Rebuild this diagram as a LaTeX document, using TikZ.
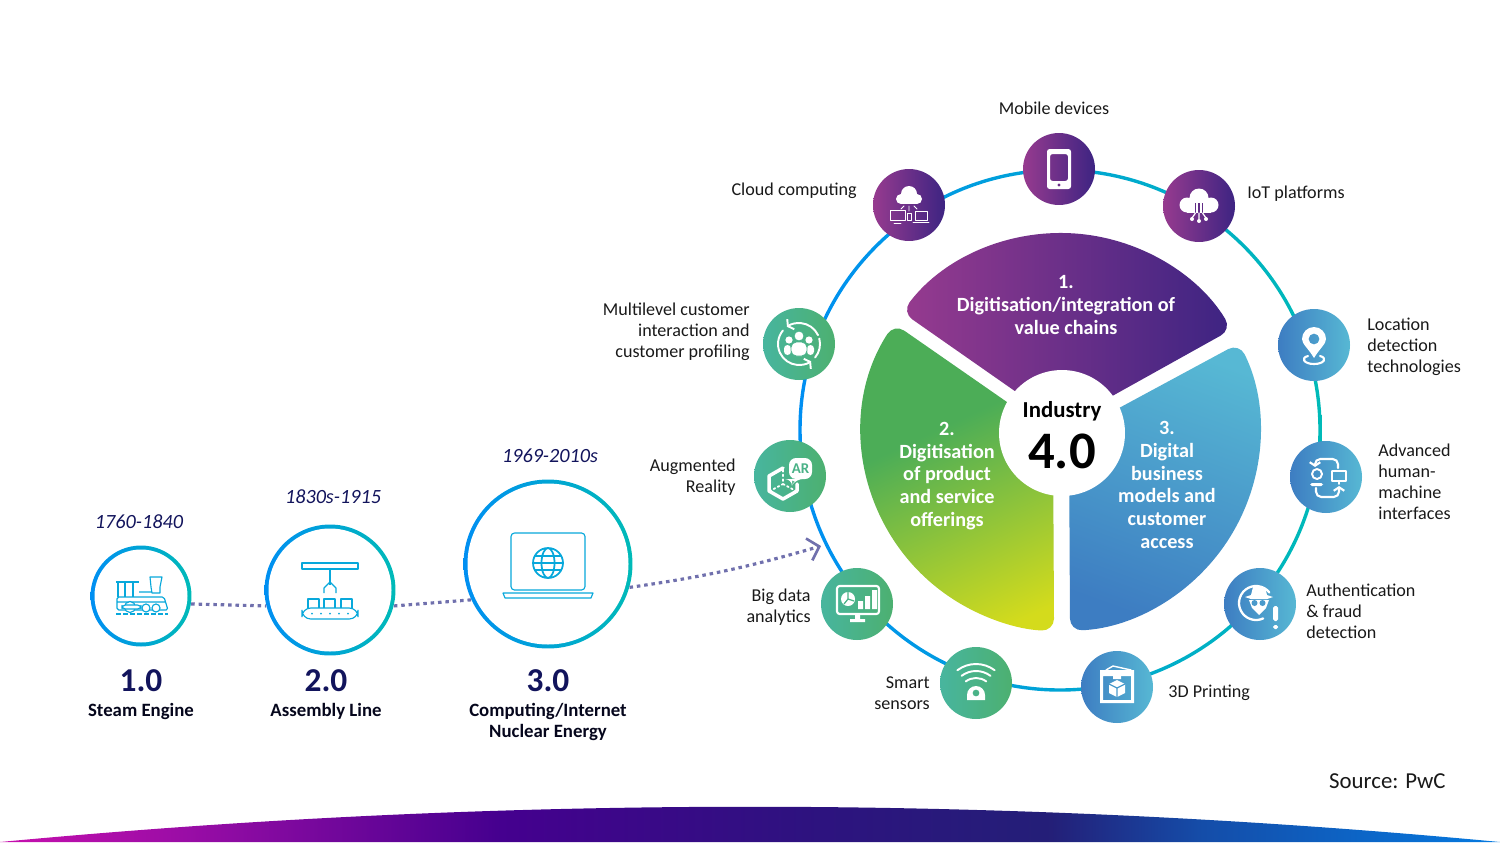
\documentclass[tikz,border=0pt]{standalone}
\usepackage{fontspec}
\setmainfont{Carlito}
\usepackage{xcolor}
\definecolor{ringblue}{rgb}{0.0,0.56,0.95}
\definecolor{ringteal}{rgb}{0.0,0.73,0.72}
\definecolor{deepnavy}{rgb}{0.07,0.08,0.36}
\definecolor{labelgray}{rgb}{0.1,0.1,0.1}
\definecolor{dotgray}{rgb}{0.44,0.44,0.68}
\definecolor{plumleft}{rgb}{0.59,0.23,0.56}
\definecolor{plumright}{rgb}{0.24,0.14,0.51}
\definecolor{skylight}{rgb}{0.34,0.72,0.83}
\definecolor{skydark}{rgb}{0.24,0.49,0.76}
\definecolor{jadeleft}{rgb}{0.28,0.71,0.62}
\definecolor{jaderight}{rgb}{0.30,0.69,0.44}
\definecolor{iconline}{rgb}{0.03,0.66,0.86}
\usepackage{tikz}
\usetikzlibrary{arrows.meta}
\pgfdeclarehorizontalshading{bandshade}{100bp}{rgb(0bp)=(0.78,0.06,0.68); rgb(25bp)=(0.78,0.06,0.68); rgb(31.3bp)=(0.60,0.05,0.65); rgb(41.7bp)=(0.27,0.0,0.56); rgb(51.7bp)=(0.18,0.07,0.50); rgb(60bp)=(0.14,0.12,0.47); rgb(65bp)=(0.08,0.30,0.66); rgb(75bp)=(0.02,0.48,0.88); rgb(100bp)=(0.02,0.48,0.88)}
\pgfdeclareverticalshading{leafshade}{100bp}{rgb(0bp)=(0.83,0.86,0.11); rgb(21bp)=(0.83,0.86,0.11); rgb(58bp)=(0.30,0.68,0.34); rgb(100bp)=(0.30,0.68,0.34)}

\begin{document}
\begin{tikzpicture}[x=0.02cm, y=-0.02cm,
  ringpath/.style={even odd rule, left color=ringblue, right color=ringteal},
  erac/.style={circle, left color=ringblue, right color=ringteal, inner sep=0pt},
  plumc/.style={circle, left color=plumleft, right color=plumright, minimum size=1.44cm, inner sep=0pt},
  skyc/.style={circle, left color=skydark, right color=skylight, minimum size=1.44cm, inner sep=0pt},
  jadec/.style={circle, left color=jadeleft, right color=jaderight, minimum size=1.44cm, inner sep=0pt},
  lab/.style={font=\fontsize{10.3}{11.95}\selectfont, text=labelgray, inner sep=0pt},
  yearl/.style={font=\fontsize{11.5}{13}\selectfont\itshape, text=deepnavy, inner sep=0pt},
  verl/.style={font=\fontsize{19}{20}\selectfont\bfseries, text=deepnavy, inner sep=0pt},
  namel/.style={font=\fontsize{10.7}{12}\selectfont\bfseries, text=deepnavy!30!black, align=center, inner sep=0pt},
  secl/.style={font=\fontsize{11.5}{12.9}\selectfont\bfseries, text=white, align=center, inner sep=0pt},
  dotted line/.style={dotgray, line width=1.8pt, dash pattern=on 2pt off 2.2pt},
  fl/.style={fill=white},
  ln/.style={draw=white, line width=0.8pt, line cap=round, line join=round},
  eraln/.style={draw=iconline, line width=0.65pt, line join=round}
]
\useasboundingbox (0,0) rectangle (1500,842);
\coordinate (hub) at (1061,432);
\coordinate (ringc) at (1060,430);
% bottom band
\shade[shading=bandshade] (0,842) .. controls (500,795) and (1000,795) .. (1500,842) -- cycle;
% ring
\path[ringpath] (ringc) circle (261.7) circle (258.3);
% three sectors
\shade[rounded corners=7, left color=plumleft, right color=plumright] (1062,424) -- ([shift={(-143:199)}]hub) arc[start angle=-143, end angle=-31, radius=199] -- cycle;
\shade[rounded corners=7, shading=leafshade, shading angle=25] (1053,434) -- ([shift={(-147:199)}]hub) arc[start angle=-147, end angle=-268, radius=199] -- cycle;
\shade[rounded corners=7, top color=skylight, bottom color=skydark, shading angle=-20] (1069,435) -- ([shift={(-26.5:199)}]hub) arc[start angle=-26.5, end angle=87.4, radius=199] -- cycle;
\node[circle, fill=white, minimum size=2.52cm, inner sep=0pt] (core) at (1062,433) {};
\node[font=\fontsize{13}{14}\selectfont\bfseries, text=black] (indus) at (1062,411) {Industry};
\node[font=\fontsize{30}{32}\selectfont\bfseries, text=black] (four) at (1062,451) {4.0};
\node[secl] (sec1) at (1066,305) {1.\\Digitisation/integration of\\value chains};
\node[secl] (sec2) at (947,476) {2.\\Digitisation\\of product\\and service\\offerings};
\node[secl] (sec3) at (1167,485) {3.\\Digital\\business\\models and\\customer\\access};
% ring nodes
\node[plumc] (mobile) at (1059,169) {};
\node[plumc] (cloud) at (909,205) {};
\node[plumc] (iot) at (1199,206) {};
\node[skyc] (locat) at (1314,345) {};
\node[skyc] (hmi) at (1326,477) {};
\node[skyc] (auth) at (1260,604) {};
\node[skyc] (print) at (1117,687) {};
\node[jadec] (sensor) at (976,683) {};
\node[jadec] (bigdata) at (857,604) {};
\node[jadec] (augm) at (790,476) {};
\node[jadec] (custom) at (799,344) {};
% ring labels
\node[lab, anchor=south] (lmobile) at (1054,115) {Mobile devices};
\node[lab, anchor=east] (lcloud) at (857,191) {Cloud computing};
\node[lab, anchor=west] (liot) at (1247,194) {IoT platforms};
\node[lab, anchor=west, align=left] (llocat) at (1367,347) {Location\\detection\\technologies};
\node[lab, anchor=west, align=left] (lhmi) at (1378,482) {Advanced\\human-\\machine\\interfaces};
\node[lab, anchor=west, align=left] (lauth) at (1306,611) {Authentication\\\& fraud\\detection};
\node[lab, anchor=west] (lprint) at (1168,693) {3D Printing};
\node[lab, anchor=east, align=right] (lsensor) at (930,693) {Smart\\sensors};
\node[lab, anchor=east, align=right] (lbigdata) at (811,607) {Big data\\analytics};
\node[lab, anchor=east, align=right] (laugm) at (736,477) {Augmented\\Reality};
\node[lab, anchor=east, align=right] (lcustom) at (750,332) {Multilevel customer\\interaction and\\customer profiling};
\node[font=\fontsize{13}{14}\selectfont, text=labelgray, anchor=east, inner sep=0pt] (source) at (1446,781) {Source: PwC};
% timeline
\node[erac, minimum size=2.02cm] (era1) at (141,596) {};
\node[erac, minimum size=2.62cm] (era2) at (330,590) {};
\node[erac, minimum size=3.38cm] (era3) at (548,564) {};
\fill[white] (era1) circle (46.5);
\fill[white] (era2) circle (61.5);
\fill[white] (era3) circle (80.5);
\coordinate (arrowend) at (821,546);
\draw[dotted line] (era1.-9) -- (era2.194);
\draw[dotted line] (era2.-14) -- (era3.205);
\draw[dotted line, -{Straight Barb[length=6pt, width=13pt, line width=1.5pt]}] (era3.-16) to[bend right=4] (arrowend);
\node[yearl] (y1) at (139,522) {1760-1840};
\node[yearl] (y2) at (333,497) {1830s-1915};
\node[yearl] (y3) at (550,456) {1969-2010s};
\node[verl] (v1) at (141,681) {1.0};
\node[verl] (v2) at (326,681) {2.0};
\node[verl] (v3) at (548,681) {3.0};
\node[namel, anchor=north] (n1) at (141,703) {Steam Engine};
\node[namel, anchor=north] (n2) at (326,703) {Assembly Line};
\node[namel, anchor=north] (n3) at (548,703) {Computing/Internet\\Nuclear Energy};
% era icons
\begin{scope}[shift={(era1)}]
\draw[eraln] (-25,-14) -- (-2,-14) (-23,-14) -- (-23,1) (-16,-14) -- (-16,1) (-8,-14) -- (-8,1);
\draw[eraln, rounded corners=1] (-24,1) -- (23,1) -- (27,14) -- (-24,14) -- cycle (-24,6) -- (24,6);
\draw[eraln] (9,-19) -- (21,-19) -- (19,-9) -- (19,-3) -- (11,-3) -- (10,-9) -- cycle (-2,-4) -- (11,-4);
\draw[eraln, fill=white] (-11,11) circle (5.5) (5,12) circle (4) (15,12) circle (4);
\draw[eraln, rounded corners=2, fill=white] (-19,9) rectangle (0,13);
\draw[eraln, dash pattern=on 3pt off 1pt] (-25,18) -- (27,18);
\end{scope}
\begin{scope}[shift={(era2)}]
\draw[eraln] (-28,-27) rectangle (28,-21) (0,-21) -- (0,-5);
\draw[eraln] (-6,3) -- (-6,-2) -- (0,-8) -- (6,-2) -- (6,3);
\draw[eraln] (-22,18) -- (-22,9) -- (-11,9) -- (-11,18) (-6,18) -- (-6,9) -- (5,9) -- (5,18) (11,18) -- (11,9) -- (22,9) -- (22,18);
\draw[eraln, rounded corners=5] (-28,18) rectangle (28,29);
\foreach \dotx in {-18,-9,0,9,18} \fill[iconline] (\dotx,23.5) circle (1);
\end{scope}
\begin{scope}[shift={(era3)}]
\draw[eraln, rounded corners=2] (-37,26) -- (-37,-31) -- (37,-31) -- (37,26) -- cycle;
\draw[eraln] (-45,29) -- (45,29) -- (43,34) -- (-43,34) -- cycle;
\draw[eraln, line width=1pt] (0,-1) circle (15) (0,-1) ellipse (6.5 and 15) (-15,-1) -- (15,-1) (-13,-8) -- (13,-8) (-13,6) -- (13,6);
\end{scope}
% ring icons
\begin{scope}[shift={(mobile)}]
\fill[fl, even odd rule, rounded corners=1.5] (-12,-20) rectangle (12,20) (-9,-15) rectangle (9,12);
\fill[plumright!50!plumleft] (0,16) circle (1.6);
\end{scope}
\begin{scope}[shift={(cloud)}]
\fill[fl] (0,-11) circle (8) (-8,-6) circle (5) (8,-6) circle (5);
\fill[fl] (-8,-9) rectangle (8,-1);
\draw[ln, line width=0.5pt] (0,1) -- (0,6) (-5,1) -- (-8,4) (5,1) -- (8,4);
\draw[ln, line width=0.5pt] (-19,5) rectangle (-4,15) (-15,18) -- (-8,18) (-2,8) rectangle (2,15) (6,6) rectangle (18,15) (4,17) -- (20,17);
\end{scope}
\begin{scope}[shift={(iot)}]
\fill[fl] (0,-8) circle (9.5) (-12,-1) circle (7.5) (12,-1) circle (7.5);
\fill[fl] (-12,-3) rectangle (12,6.5);
\draw[plumright!60!plumleft, line width=0.6pt] (-3.5,-3) -- (-3.5,7) (0,-3) -- (0,7) (3.5,-3) -- (3.5,7);
\draw[ln, line width=0.7pt] (-3.5,7) -- (-7,12) (0,7) -- (0,13) (3.5,7) -- (7,12);
\fill[fl] (-7,13) circle (2) (0,15) circle (2) (7,13) circle (2);
\end{scope}
\begin{scope}[shift={(locat)}]
\fill[fl, even odd rule] (0,13) .. controls (-6,3) and (-12,-1) .. (-12,-6) arc[start angle=180, end angle=360, radius=12] .. controls (12,-1) and (6,3) .. (0,13) -- cycle (0,-6) circle (5.5);
\draw[ln, line width=1.2pt] (-6,11) .. controls (-14,13) and (-10,19) .. (0,19) .. controls (10,19) and (14,13) .. (6,11);
\end{scope}
\begin{scope}[shift={(hmi)}]
\draw[ln, line width=1.1pt] (-9,-3) circle (5) (6,-6) rectangle (20,4) (13,4) -- (13,7);
\draw[ln, line width=1.2pt, rounded corners=3, -{Straight Barb[length=2pt, width=6pt]}] (12,-9) -- (12,-18) -- (-11,-18) -- (-11,-10);
\draw[ln, line width=1.2pt, rounded corners=3, -{Straight Barb[length=2pt, width=6pt]}] (-10,11) -- (-10,20) -- (13,20) -- (13,9);
\fill[fl, rounded corners=1] (-16,6) rectangle (-3,9);
\end{scope}
\begin{scope}[shift={(auth)}]
\draw[ln, line width=1.3pt] ([shift={(-38:17)}]-4,-1) arc[start angle=-38, end angle=-295, radius=17];
\fill[fl] (-15,-7) -- (-9,-9) -- (-7,-17) -- (5,-17) -- (7,-9) -- (13,-7) -- (7,-5) -- (-9,-5) -- cycle;
\fill[fl] (-11,-4) -- (9,-4) -- (6,4) -- (-1,11) -- (-8,4) -- cycle;
\fill[skydark!50!skylight] (-5.5,-1) circle (3) (2.5,-1) circle (3);
\fill[fl, rounded corners=1] (13,2) rectangle (18,17) (13,21) rectangle (18,25);
\end{scope}
\begin{scope}[shift={(print)}]
\fill[fl, even odd rule] (-17,-17) rectangle (17,16) (-14,-11) rectangle (14,13);
\draw[ln] (-11,-17) -- (-4,-21) -- (14,-17);
\fill[fl] (-4,-11) rectangle (4,-8) (0,-7) -- (8,-3) -- (8,6) -- (0,10) -- (-8,6) -- (-8,-3) -- cycle;
\draw[skydark!50!skylight, line width=0.7pt] (-8,-3) -- (0,1) -- (8,-3) (0,1) -- (0,10);
\end{scope}
\begin{scope}[shift={(sensor)}]
\draw[ln, line width=1.1pt] ([shift={(-127:31)}]0,12) arc[start angle=-127, end angle=-53, radius=31];
\draw[ln, line width=1.1pt] ([shift={(-127:24)}]0,12) arc[start angle=-127, end angle=-53, radius=24];
\draw[ln, line width=1.1pt] ([shift={(-127:17)}]0,12) arc[start angle=-127, end angle=-53, radius=17];
\fill[fl, even odd rule] (-9,17) -- (-9,12) arc[start angle=180, end angle=360, radius=9] -- (9,17) -- cycle (0,10) circle (3.5);
\end{scope}
\begin{scope}[shift={(bigdata)}]
\draw[ln, line width=1.2pt, rounded corners=1.5] (-20,-18) rectangle (22,10);
\fill[fl] (-2,10) rectangle (3,15) (-7,15) rectangle (8,18);
\fill[fl] (-9,-5) circle (7);
\draw[jaderight!50!jadeleft, line width=0.7pt] (-9,-5) -- (-9,-12) (-9,-5) -- (-3,-3) (-9,-5) -- (-13,0);
\fill[fl] (1,-3) rectangle (6,5) (8,-8) rectangle (13,5) (15,-14) rectangle (20,5);
\end{scope}
\begin{scope}[shift={(augm)}]
\fill[fl, rounded corners=4] (-1,-18) -- (22,-18) -- (22,3) -- (6,3) -- (2,9) -- (2,3) -- (-1,3) -- cycle;
\node[font=\fontsize{8.5}{9}\selectfont\bfseries, text=jaderight!50!jadeleft, inner sep=0pt] (artext) at (10.5,-7.5) {AR};
\draw[ln, line width=2pt] (-7,-8) -- (-21,0) -- (-21,15) -- (-7,23) -- (7,15) -- (7,8);
\draw[ln, line width=1pt, dash pattern=on 1pt off 1.6pt] (-7,-6) -- (-7,8) -- (-20,15) (-7,8) -- (6,15);
\end{scope}
\begin{scope}[shift={(custom)}]
\draw[ln, line width=1.1pt, -{Straight Barb[length=2pt, width=7pt]}] ([shift={(-25:21)}]0,0) arc[start angle=-25, end angle=-125, radius=21];
\draw[ln, line width=1.1pt, -{Straight Barb[length=2pt, width=7pt]}] ([shift={(155:21)}]0,0) arc[start angle=155, end angle=55, radius=21];
\draw[ln, line width=1.1pt] ([shift={(-140:21)}]0,0) arc[start angle=-140, end angle=-205, radius=21];
\draw[ln, line width=1.1pt] ([shift={(40:21)}]0,0) arc[start angle=40, end angle=-15, radius=21];
\fill[fl] (-10,-4) circle (3.6) (10,-4) circle (3.6);
\fill[fl, rounded corners=2] (-15,1) rectangle (-8,11) (8,1) rectangle (15,11);
\draw[fl, draw=jadeleft!60!jaderight, line width=0.5pt] (0,-8) circle (5);
\draw[fl, draw=jadeleft!60!jaderight, line width=0.5pt, rounded corners=3] (-8,-2) rectangle (8,12);
\end{scope}
\end{tikzpicture}
\end{document}
